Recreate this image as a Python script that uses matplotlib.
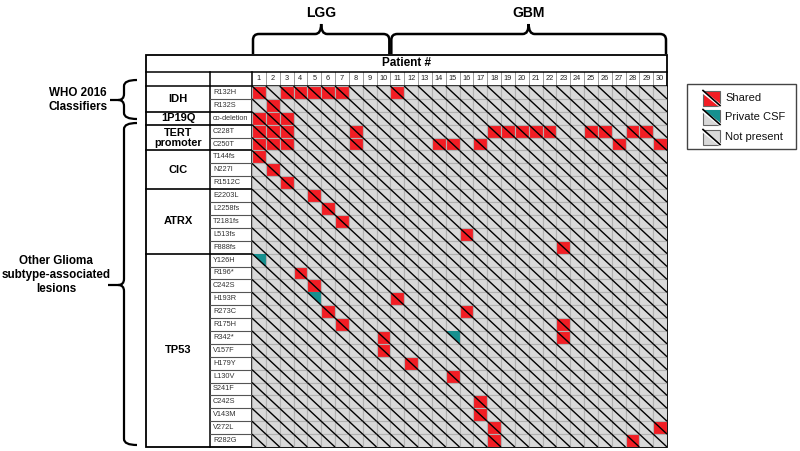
import matplotlib
matplotlib.use("Agg")
import matplotlib.pyplot as plt
from matplotlib.patches import Rectangle, Polygon, PathPatch
from matplotlib.path import Path

plt.rcParams['font.family'] = ['Liberation Sans', 'DejaVu Sans']

# ---------------- data ----------------
patients = list(range(1, 31))
genes = ['IDH', '1P19Q', 'TERT\npromoter', 'CIC', 'ATRX', 'TP53']
gene_sizes = [2, 1, 2, 3, 5, 15]
variants = ['R132H', 'R132S', 'co-deletion', 'C228T', 'C250T',
            'T144fs', 'N227I', 'R1512C',
            'E2203L', 'L2258fs', 'T2181fs', 'L513fs', 'F888fs',
            'Y126H', 'R196*', 'C242S', 'H193R', 'R273C', 'R175H', 'R342*',
            'V157F', 'H179Y', 'L130V', 'S241F', 'C242S', 'V143M', 'V272L', 'R282G']
shared = [
    [1, 3, 4, 5, 6, 7, 11],
    [2],
    [1, 2, 3],
    [1, 2, 3, 8, 18, 19, 20, 21, 22, 25, 26, 28, 29],
    [1, 2, 3, 8, 14, 15, 17, 27, 30],
    [1], [2], [3],
    [5], [6], [7], [16], [23],
    [], [4], [5], [11], [6, 16], [7, 23], [10, 23],
    [10], [12], [15], [], [17], [17], [18, 30], [18, 28],
]
# private CSF lesions: row index -> patients
private_csf = {13: [1], 16: [5], 19: [15]}
cohorts = ['LGG', 'GBM']
cohort_ranges = [(1, 10), (11, 30)]
legend_labels = ['Shared', 'Private CSF', 'Not present']
side_labels = ['WHO 2016\nClassifiers', 'Other Glioma\nsubtype-associated\nlesions']

RED = '#f21d24'
TEAL = '#16908f'
GRAY = '#d9d9d9'
CELL_EDGE = '#b2b2b2'

W, H = 800, 451
fig = plt.figure(figsize=(W / 100, H / 100), dpi=100)

# table geometry (pixels)
X0, XG, XV, X1 = 146, 210, 252, 667
YT, YP, YH, YB = 55, 72, 86, 447
ncol = len(patients)
nrow = len(variants)
cw = (X1 - XV) / ncol
rh = (YB - YH) / nrow

# overlay axes in pixel coordinates
ov = fig.add_axes([0, 0, 1, 1])
ov.set_xlim(0, W)
ov.set_ylim(H, 0)
ov.axis('off')
ov.patch.set_alpha(0)

# heatmap axes
ax = fig.add_axes([XV / W, 1 - YB / H, (X1 - XV) / W, (YB - YH) / H])
ax.set_xlim(0, ncol)
ax.set_ylim(nrow, 0)
ax.axis('off')

for r, v in enumerate(variants):
    priv = private_csf.get(r, [])
    for c, p in enumerate(patients):
        fc = RED if p in shared[r] else GRAY
        ax.add_patch(Rectangle((c, r), 1, 1, facecolor=fc, edgecolor=CELL_EDGE, lw=0.8))
        if p in priv:
            ax.add_patch(Polygon([(c, r), (c + 1, r), (c + 1, r + 1)], closed=True,
                                 facecolor=TEAL, edgecolor='none'))
        ax.plot([c, c + 1], [r, r + 1], color='black', lw=1.0, solid_capstyle='butt')

# header numbers
for c, p in enumerate(patients):
    xc = XV + (c + 0.5) * cw
    ov.text(xc, (YP + YH) / 2, str(p), ha='center', va='center', fontsize=5.3, color='#222')
    if c > 0:
        ov.plot([XV + c * cw] * 2, [YP, YH], color='#9a9a9a', lw=0.7)

# table frame
ov.add_patch(Rectangle((X0, YT), X1 - X0, YB - YT, fill=False, edgecolor='black', lw=1.3))
ov.plot([X0, X1], [YP, YP], color='black', lw=1.1)
ov.plot([X0, X1], [YH, YH], color='black', lw=1.1)
ov.plot([XG, XG], [YP, YB], color='black', lw=1.1)
ov.plot([XV, XV], [YP, YB], color='black', lw=1.1)
ov.text((X0 + X1) / 2, (YT + YP) / 2, 'Patient #', ha='center', va='center',
        fontsize=8.5, fontweight='bold')

# gene groups and variant labels
r0 = 0
for g, n in zip(genes, gene_sizes):
    ytop = YH + r0 * rh
    ybot = YH + (r0 + n) * rh
    if '\n' in g:
        ov.text((X0 + XG) / 2, (ytop + ybot) / 2, g, ha='center', va='center',
                fontsize=7.8, fontweight='bold', linespacing=1.0)
    else:
        ov.text((X0 + XG) / 2, (ytop + ybot) / 2 + 3, g, ha='center', va='baseline',
                fontsize=8.0, fontweight='bold')
    if r0 + n < nrow:
        ov.plot([X0, XV], [ybot, ybot], color='black', lw=1.2)
    for k in range(1, n):
        yy = YH + (r0 + k) * rh
        ov.plot([XG, XV], [yy, yy], color='#555', lw=0.8)
    r0 += n
for r, v in enumerate(variants):
    ov.text(XG + 3, YH + (r + 0.5) * rh, v, ha='left', va='center', fontsize=5.3, color='#333')

# braces
def hbrace(x0, x1, yend, yb, yt, rad=6):
    xm = (x0 + x1) / 2
    verts = [(x0, yend), (x0, yb + rad), (x0, yb), (x0 + rad, yb),
             (xm - rad, yb), (xm, yb), (xm, yt),
             (xm, yb), (xm + rad, yb), (x1 - rad, yb), (x1, yb), (x1, yb + rad), (x1, yend)]
    codes = [Path.MOVETO, Path.LINETO, Path.CURVE3, Path.CURVE3,
             Path.LINETO, Path.CURVE3, Path.CURVE3,
             Path.CURVE3, Path.CURVE3, Path.LINETO, Path.CURVE3, Path.CURVE3, Path.LINETO]
    ov.add_patch(PathPatch(Path(verts, codes), fill=False, lw=1.8, edgecolor='black'))

def vbrace(y0, y1, xend, xb, xt, ym, rad=6):
    verts = [(xend, y0), (xb, y0), (xb, y0 + rad),
             (xb, ym - rad), (xb, ym), (xb - rad, ym), (xt, ym),
             (xb - rad, ym), (xb, ym), (xb, ym + rad),
             (xb, y1 - rad), (xb, y1), (xend, y1)]
    codes = [Path.MOVETO, Path.CURVE3, Path.CURVE3,
             Path.LINETO, Path.CURVE3, Path.CURVE3, Path.LINETO,
             Path.MOVETO, Path.CURVE3, Path.CURVE3,
             Path.LINETO, Path.CURVE3, Path.CURVE3]
    ov.add_patch(PathPatch(Path(verts, codes), fill=False, lw=1.6, edgecolor='black'))

for name, (a, b) in zip(cohorts, cohort_ranges):
    xa = XV + (a - 1) * cw + 1
    xb_ = XV + b * cw - 1
    hbrace(xa, xb_, 54, 34, 24)
    ov.text((xa + xb_) / 2, 13, name, ha='center', va='center', fontsize=10, fontweight='bold')

vbrace(80, 119, 137, 124, 110, 100)
ov.text(78, 100, side_labels[0], ha='center', va='center', fontsize=8.4,
        fontweight='bold', linespacing=1.25)
vbrace(123, 445, 137, 124, 108, 285)
ov.text(56, 275, side_labels[1], ha='center', va='center', fontsize=8.4,
        fontweight='bold', linespacing=1.25)

# legend
ov.add_patch(Rectangle((687, 84), 109, 65, fill=False, edgecolor='#444', lw=1.0))
icon_y = [98, 117, 137]
ix0, ix1 = 703, 720
ih = 15
for lab, yc in zip(legend_labels, icon_y):
    yt_ = yc - ih / 2
    fc = RED if lab == 'Shared' else GRAY
    ov.add_patch(Rectangle((ix0, yt_), ix1 - ix0, ih, facecolor=fc, edgecolor='#666', lw=0.8))
    if lab == 'Private CSF':
        ov.add_patch(Polygon([(ix0, yt_), (ix1, yt_), (ix1, yt_ + ih)], closed=True,
                             facecolor=TEAL, edgecolor='none'))
    ov.plot([ix0, ix1], [yt_ + 1.5, yt_ + ih], color='white', lw=2.2)
    ov.plot([ix0, ix1], [yt_, yt_ + ih], color='black', lw=1.2)
    ov.text(725, yc, lab, ha='left', va='center', fontsize=8, color='#111')

fig.savefig('out.png', dpi=100)
